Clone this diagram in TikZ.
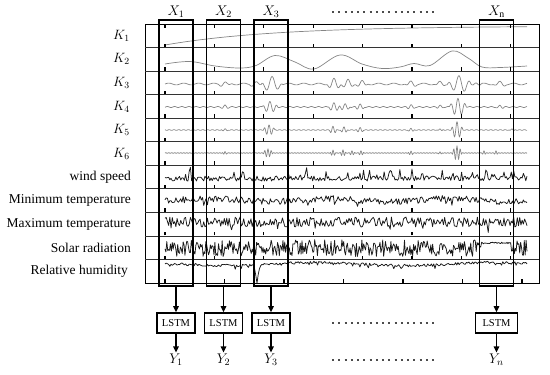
\RequirePackage{fix-cm}
\documentclass[tikz,border=0pt]{standalone}
\usepackage{fontspec}
\setmainfont{Liberation Serif}
\usetikzlibrary{arrows.meta}
\begin{document}
\begin{tikzpicture}[x=1pt,y=-1pt,
  declare function={
    clp(\x,\c,\w)=max(-\w,min(\w,\x-\c));
    bur(\x,\c,\w,\f)=(1-(clp(\x,\c,\w)/\w)*(clp(\x,\c,\w)/\w))*cos(\f*clp(\x,\c,\w));
  },
  colbox/.style={draw, line width=1.2pt, minimum width=34pt, minimum height=266pt, inner sep=0pt},
  lstm/.style={draw, line width=1.6pt, minimum width=38pt, minimum height=20pt, inner sep=0pt, font=\fontsize{10.5}{12}\selectfont},
  arr/.style={-{Triangle[length=6pt,width=5.5pt]}, line width=1.4pt},
  lab/.style={anchor=east, inner sep=0pt, font=\fontsize{13.5}{16}\selectfont},
  klab/.style={anchor=east, inner sep=0pt, font=\fontsize{13.5}{16}\selectfont},
  toplab/.style={inner sep=0pt, font=\fontsize{14}{16}\selectfont},
  ksig/.style={draw=black!48, line width=0.7pt, line join=round},
  wsig/.style={draw=black!90, line width=0.75pt, line join=round},
  rowline/.style={draw=black!80, line width=0.8pt},
  tickm/.style={line width=1.3pt},
  dotline/.style={draw=black!70, line width=2.2pt, dash pattern=on 2pt off 4.25pt}
]
\useasboundingbox (0,0) rectangle (550,375);
\pgfmathsetseed{11}

% ---------- signals ----------
% K1
\draw[ksig] plot[domain=165:527,samples=80] (\x,{45-19*(1-exp(-(\x-165)/110))});
% K2
\draw[ksig] plot[smooth,tension=0.6] coordinates {(165,64) (190,61.5) (215,66) (240,68) (256,65.5) (275,55.5) (295,62) (314,69) (340,55) (362,64) (382,68.5) (400,67) (414,63.5) (430,65.5) (452,51) (468,58) (482,67) (500,67.5) (527,66)};
% K3
\draw[ksig] plot[domain=165:527,samples=363] (\x,{84-0.9*sin(24*\x)-2*bur(\x,225,8,40)-2*bur(\x,256,8,40)-7*bur(\x,272,11,32)-5*bur(\x,334,8,40)-4*bur(\x,348,7,40)-3*bur(\x,362,6,40)-2.5*bur(\x,411,7,40)-2*bur(\x,440,6,40)-9*bur(\x,459,12,32)-2*bur(\x,476,6,40)-2*bur(\x,500,8,40)});
% K4
\draw[ksig] plot[domain=165:527,samples=725] (\x,{107-0.5*sin(50*mod(\x,36))-1.5*bur(\x,225,5,55)-5.5*bur(\x,270,8,50)-4*bur(\x,334,6,55)-3.5*bur(\x,345,6,55)-3*bur(\x,360,5,55)-2*bur(\x,411,5,55)-1.5*bur(\x,440,4,55)-9*bur(\x,458,9,50)-1.5*bur(\x,500,5,55)});
% K5
\draw[ksig] plot[domain=165:527,samples=725] (\x,{130-0.4*sin(75*mod(\x,24))-1.5*bur(\x,225,4,75)-5*bur(\x,269,6,75)-3.5*bur(\x,333,4,75)-3.5*bur(\x,344,4,75)-2.5*bur(\x,360,4,75)-2*bur(\x,411,4,75)-1.5*bur(\x,440,3,75)-8*bur(\x,457,6,70)-1.5*bur(\x,512,3,75)});
% K6
\draw[ksig] plot[domain=165:527,samples=725] (\x,{153-0.3*sin(120*mod(\x,3))-1.5*bur(\x,225,3,120)-4*bur(\x,268,5,110)-3*bur(\x,333,3,120)-3*bur(\x,343,3,120)-2*bur(\x,352,3,120)-2*bur(\x,361,3,120)-2*bur(\x,411,3,120)-1.5*bur(\x,440,3,120)-7*bur(\x,457,5,110)-2*bur(\x,484,2,120)-2*bur(\x,496,2,120)});
% wind speed
\draw[wsig] plot[domain=165:527,samples=300] (\x,{181-5*rnd-(rnd>0.85)*(3+6*rnd)});
% minimum temperature
\draw[wsig] plot[domain=165:527,samples=300] (\x,{200+3.2*rand+1.5*sin(3*\x)+(rnd>0.94)*4});
% maximum temperature
\draw[wsig] plot[domain=165:527,samples=300] (\x,{222+5*rand+(rnd>0.93)*6});
% solar radiation
\draw[wsig] plot[domain=165:527,samples=400] (\x,{and(\x>481,\x<511) ? 243+0.8*rand : 248+8.5*rand});
% relative humidity
\draw[wsig] plot[domain=165:527,samples=300] (\x,{264+1.3*rand+1.5*sin(2*\x)+(rnd>0.9)*4*rnd+18*max(0,1-abs(\x-257)/3)});

% ---------- frame ----------
\draw[line width=1pt] (145,24) rectangle (539,283);
\foreach \i in {1,...,10}{
  \draw[rowline] (145,{24+23.55*\i}) -- (539,{24+23.55*\i});
}
% ticks
\foreach \k in {0,...,7}{
  \draw[tickm] ({165+49.4*\k},24) -- ({165+49.4*\k},27.5);
  \foreach \i in {1,...,10}{
    \draw[tickm] ({165+49.4*\k},{24+23.55*\i-0.5}) -- ({165+49.4*\k},{24+23.55*\i-4});
  }
}
\foreach \k in {0,...,6}{
  \draw[tickm] ({165+59.5*\k},282.5) -- ({165+59.5*\k},279);
}

% ---------- row labels ----------
\node[klab] (k1) at (130,35.8) {$K_1$};
\node[klab] (k2) at (130,59.3) {$K_2$};
\node[klab] (k3) at (130,82.9) {$K_3$};
\node[klab] (k4) at (130,106.4) {$K_4$};
\node[klab] (k5) at (130,130) {$K_5$};
\node[klab] (k6) at (130,153.5) {$K_6$};
\node[lab] (ws) at (131,177) {wind speed};
\node[lab] (mint) at (131,200.6) {Minimum temperature};
\node[lab] (maxt) at (131,224.2) {Maximum temperature};
\node[lab] (sol) at (131,247.7) {Solar radiation};
\node[lab] (rh) at (128,271.3) {Relative humidity};

% ---------- windows ----------
\node[colbox] (c1) at (176,153) {};
\node[colbox] (c2) at (223.5,153) {};
\node[colbox] (c3) at (271,153) {};
\node[colbox] (cn) at (496.5,153) {};
\node[toplab] (x1) at (176,12) {$X_1$};
\node[toplab] (x2) at (223.5,12) {$X_2$};
\node[toplab] (x3) at (271,12) {$X_3$};
\node[toplab] (xn) at (496.5,12) {$X_{\mathrm{n}}$};
\coordinate (td1) at (332,12);
\coordinate (td2) at (434,12);
\draw[dotline] (td1) -- (td2);

% ---------- LSTM ----------
\node[lstm] (l1) at (176,323) {LSTM};
\node[lstm] (l2) at (223.5,323) {LSTM};
\node[lstm] (l3) at (271,323) {LSTM};
\node[lstm, minimum width=42pt] (ln) at (496.5,323) {LSTM};
\node[toplab, inner sep=1.5pt] (y1) at (176,360) {$Y_1$};
\node[toplab, inner sep=1.5pt] (y2) at (223.5,360) {$Y_2$};
\node[toplab, inner sep=1.5pt] (y3) at (271,360) {$Y_3$};
\node[toplab, inner sep=1.5pt] (yn) at (496.5,360) {$Y_n$};
\coordinate (md1) at (332,323);
\coordinate (md2) at (434,323);
\coordinate (bd1) at (332,360);
\coordinate (bd2) at (434,360);
\draw[dotline] (md1) -- (md2);
\draw[dotline] (bd1) -- (bd2);

\foreach \c/\l/\y in {c1/l1/y1,c2/l2/y2,c3/l3/y3,cn/ln/yn}{
  \draw[arr] (\c.south) -- (\l.north);
  \draw[arr] (\l.south) -- (\y.north);
}
\end{tikzpicture}
\end{document}
